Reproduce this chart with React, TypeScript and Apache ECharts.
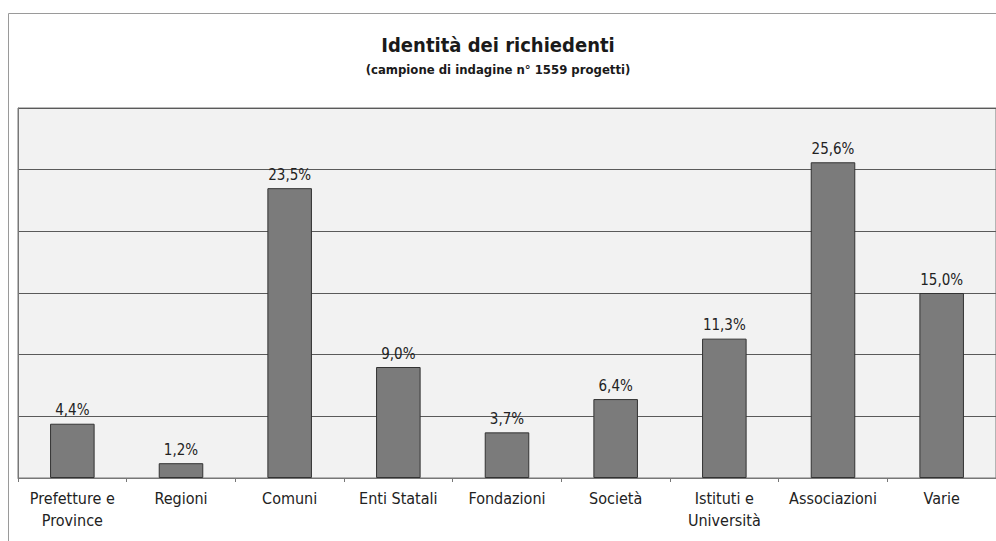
import React, { useEffect, useRef } from "react";
import * as echarts from "echarts";

const categories = [
  "Prefetture e\nProvince",
  "Regioni",
  "Comuni",
  "Enti Statali",
  "Fondazioni",
  "Società",
  "Istituti e\nUniversità",
  "Associazioni",
  "Varie",
];
const values = [4.4, 1.2, 23.5, 9.0, 3.7, 6.4, 11.3, 25.6, 15.0];
const titleText = "Identità dei richiedenti";
const subtitleText = "(campione di indagine n° 1559 progetti)";

const FONT = "'Liberation Sans Narrow', 'Arial Narrow', 'DejaVu Sans Condensed', sans-serif";

export default function App() {
  const ref = useRef<HTMLDivElement>(null);
  useEffect(() => {
    if (!ref.current) return;
    const chart = echarts.init(ref.current, undefined, { renderer: "svg" });
    chart.setOption({
      animation: false,
      backgroundColor: "#ffffff",
      textStyle: { fontFamily: FONT },
      graphic: [
        {
          type: "rect",
          shape: { x: 8.5, y: 13.5, width: 1000, height: 600 },
          style: { fill: "none", stroke: "#9a9a9a", lineWidth: 1 },
          z: -10,
        },
      ],
      title: {
        text: titleText,
        subtext: subtitleText,
        left: "center",
        top: 30,
        itemGap: 8,
        textStyle: { fontSize: 20, fontWeight: "bold", color: "#1a1a1a", fontFamily: FONT },
        subtextStyle: { fontSize: 13, fontWeight: "bold", color: "#1a1a1a", fontFamily: FONT },
      },
      grid: {
        left: 18,
        right: 0,
        top: 108,
        bottom: 63,
        show: true,
        backgroundColor: "#f2f2f2",
        borderColor: "#777777",
        borderWidth: 1,
      },
      xAxis: {
        type: "category",
        data: categories,
        axisLine: { lineStyle: { color: "#777777" } },
        axisTick: { show: true, length: 4, lineStyle: { color: "#777777" } },
        axisLabel: {
          color: "#222222",
          fontSize: 16,
          margin: 9,
          lineHeight: 22,
          interval: 0,
          fontFamily: FONT,
        },
      },
      yAxis: {
        type: "value",
        min: 0,
        max: 30,
        interval: 5,
        axisLabel: { show: false },
        axisLine: { show: true, lineStyle: { color: "#777777" } },
        axisTick: { show: false },
        splitLine: { lineStyle: { color: "#5a5a5a", width: 1 } },
      },
      series: [
        {
          type: "bar",
          data: values,
          barWidth: "41%",
          itemStyle: { color: "#7b7b7b", borderColor: "#333333", borderWidth: 1 },
          label: {
            show: true,
            position: "top",
            distance: 6,
            color: "#222222",
            fontSize: 15,
            fontFamily: FONT,
            formatter: (p: any) => p.value.toFixed(1).replace(".", ",") + "%",
          },
        },
      ],
    });
    return () => chart.dispose();
  }, []);
  return <div ref={ref} style={{ width: 996, height: 541, position: "absolute", left: 0, top: 0 }} />;
}
